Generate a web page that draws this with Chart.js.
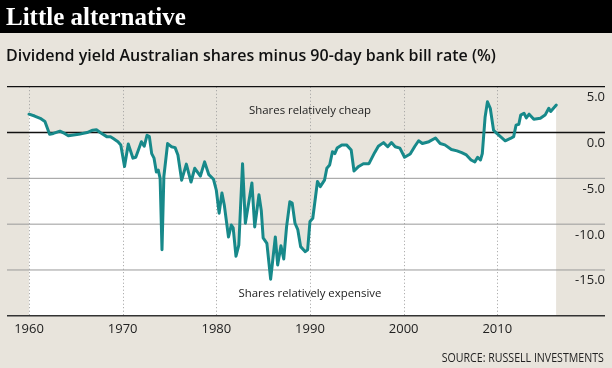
<!DOCTYPE html>
<html><head><meta charset="utf-8">
<script src="https://cdn.jsdelivr.net/npm/chart.js@4/dist/chart.umd.min.js"></script>
<style>
html,body{margin:0;padding:0;background:#e8e4dc;}
#wrap{position:relative;width:612px;height:368px;overflow:hidden;background:#e8e4dc;}
#bar{position:absolute;left:0;top:0;width:612px;height:33px;background:#000;}
canvas{position:absolute;left:0;top:0;}
.t{position:absolute;white-space:nowrap;}
</style></head>
<body><div id="wrap">
<div id="bar"></div>
<canvas id="c" width="612" height="368" style="width:612px;height:368px"></canvas>
<div class="t" style="left:6px;top:4px;font:bold 25px/25px 'Liberation Serif',serif;color:#fff;">Little alternative</div>
<div class="t" style="left:6px;top:46.5px;font:600 16px/16px 'Open Sans',sans-serif;color:#111;">Dividend yield Australian shares minus 90-day bank bill rate (%)</div>
<div class="t" style="left:310px;top:103.9px;transform:translateX(-50%);font:11.4px/11.4px 'Open Sans',sans-serif;color:#222;">Shares relatively cheap</div>
<div class="t" style="left:310px;top:287.2px;transform:translateX(-50%);font:11.4px/11.4px 'Open Sans',sans-serif;color:#222;">Shares relatively expensive</div>
<div class="t" style="right:8px;top:351.6px;transform:scaleX(0.85);transform-origin:right center;font:12.5px/12.5px 'Open Sans',sans-serif;color:#222;">SOURCE: RUSSELL INVESTMENTS</div>
</div>
<script>
const years = [1960.0,1960.6,1961.2,1961.7,1962.2,1962.6,1963.3,1963.8,1964.2,1965.3,1966.2,1966.8,1967.2,1967.6,1968.3,1968.7,1969.0,1969.5,1969.8,
1970.2,1970.6,1971.1,1971.4,1972.0,1972.3,1972.6,1972.85,1973.1,1973.35,1973.6,1973.8,1974.0,1974.2,1974.4,1974.8,1975.2,1975.6,1975.9,1976.3,1976.8,1977.3,1977.7,1978.3,1978.75,1979.2,1979.7,
1980.0,1980.3,1980.6,1980.85,1981.3,1981.6,1981.8,1982.1,1982.4,1982.8,1983.1,1983.8,1984.1,1984.55,1984.8,1985.0,1985.4,1985.8,1986.3,1986.55,1986.9,1987.2,1987.5,1987.85,1988.1,1988.4,1988.7,1989.0,1989.5,1989.75,
1990.0,1990.3,1990.8,1991.1,1991.55,1991.8,1992.1,1992.4,1992.65,1992.9,1993.4,1993.9,1994.4,1994.7,1995.2,1995.7,1996.3,1996.9,1997.3,1997.85,1998.3,1998.7,1999.1,1999.6,
2000.1,2000.7,2001.2,2001.6,2002.0,2002.7,2003.4,2003.9,2004.4,2005.1,2005.7,2006.2,2006.7,2007.2,2007.6,2007.9,2008.2,2008.4,2008.7,2008.95,2009.25,2009.6,2009.95,
2010.4,2010.85,2011.4,2011.75,2012.0,2012.3,2012.5,2012.85,2013.1,2013.4,2013.9,2014.6,2015.1,2015.5,2015.7,2016.3];
const values = [2.0,1.8,1.55,1.2,-0.2,-0.1,0.15,-0.1,-0.35,-0.2,0.0,0.25,0.3,0.0,-0.45,-0.45,-0.65,-1.0,-1.35,
-3.7,-1.25,-2.8,-2.7,-1.0,-1.5,-0.3,-0.45,-2.3,-2.8,-4.3,-4.1,-5.0,-12.8,-4.8,-1.2,-1.55,-1.65,-2.45,-5.2,-3.45,-5.4,-3.9,-4.75,-3.2,-4.6,-5.1,
-6.3,-8.8,-6.6,-7.9,-11.4,-10.1,-10.4,-13.5,-12.3,-3.4,-9.9,-5.5,-10.3,-6.8,-8.5,-11.5,-12.1,-16.0,-11.4,-14.45,-12.35,-13.8,-10.3,-7.55,-7.7,-9.9,-10.6,-12.45,-13.0,-12.8,
-9.7,-9.35,-5.35,-5.9,-5.2,-3.9,-3.55,-2.1,-2.3,-1.7,-1.35,-1.35,-1.9,-4.2,-3.7,-3.4,-3.4,-2.2,-1.5,-1.1,-1.55,-1.1,-1.55,-1.7,
-2.7,-2.35,-1.5,-0.9,-1.2,-1.0,-0.6,-1.2,-1.35,-1.85,-2.0,-2.2,-2.45,-3.0,-3.2,-2.7,-3.0,-2.3,1.7,3.35,2.65,0.25,-0.1,
-0.5,-0.9,-0.65,-0.45,0.8,0.9,1.9,2.1,1.6,2.0,1.45,1.55,1.9,2.65,2.3,3.0];
const xTickYears = [1960,1970,1980,1990,2000,2010];
const yTickValues = [-15,-10,-5,0,5];
const yTickLabels = ['-15.0','-10.0','-5.0','0.0','5.0'];

const gridPlugin = {
  id: 'gridUnderLine',
  beforeDatasetDraw(chart) {
    const {ctx, chartArea: a, scales: {x, y}} = chart;
    ctx.save();
    ctx.lineWidth = 1;
    ctx.strokeStyle = '#9d9d9d';
    ctx.setLineDash([1, 2.5]);
    xTickYears.forEach(v => {
      const px = Math.round(x.getPixelForValue(v)) + 0.5;
      ctx.beginPath(); ctx.moveTo(px, a.top); ctx.lineTo(px, a.bottom); ctx.stroke();
    });
    ctx.setLineDash([]);
    yTickValues.forEach(v => {
      const py = y.getPixelForValue(v);
      const strong = (v === 0 || v === 5);
      ctx.strokeStyle = strong ? '#111' : '#9a9a9a';
      ctx.lineWidth = strong ? 1.3 : 1;
      ctx.beginPath(); ctx.moveTo(a.left, py); ctx.lineTo(a.right, py); ctx.stroke();
    });
    const pb = y.getPixelForValue(-20);
    ctx.strokeStyle = '#333'; ctx.lineWidth = 1.6;
    ctx.beginPath(); ctx.moveTo(a.left, pb); ctx.lineTo(a.right, pb); ctx.stroke();
    ctx.restore();
  }
};

new Chart(document.getElementById('c'), {
  type: 'line',
  data: {
    datasets: [{
      data: years.map((yr, i) => ({x: yr, y: values[i]})),
      borderColor: '#17898a',
      borderWidth: 3,
      pointRadius: 0,
      fill: 'start',
      backgroundColor: '#ffffff',
      tension: 0,
      borderJoinStyle: 'round',
      borderCapStyle: 'round'
    }]
  },
  options: {
    responsive: false,
    animation: false,
    layout: {padding: {top: 86.7, left: 7, right: 7, bottom: 25.8}},
    plugins: {legend: {display: false}, tooltip: {enabled: false}},
    scales: {
      x: {
        type: 'linear', min: 1957.651, max: 2021.5,
        afterBuildTicks: ax => { ax.ticks = xTickYears.map(v => ({value: v})); },
        grid: {display: false, drawTicks: false}, border: {display: false},
        ticks: {padding: 5.4, maxRotation: 0, autoSkip: false,
          font: {family: "'Open Sans', sans-serif", size: 13}, color: '#222',
          callback: (v, i) => String(xTickYears[i])}
      },
      y: {
        type: 'linear', position: 'right', min: -20, max: 5,
        afterBuildTicks: ax => { ax.ticks = yTickValues.map(v => ({value: v})); },
        grid: {display: false, drawTicks: false}, border: {display: false},
        ticks: {mirror: true, padding: 0, labelOffset: 10.7,
          font: {family: "'Open Sans', sans-serif", size: 13}, color: '#222',
          callback: (v, i) => yTickLabels[i]}
      }
    }
  },
  plugins: [gridPlugin]
});
</script>
</body></html>
